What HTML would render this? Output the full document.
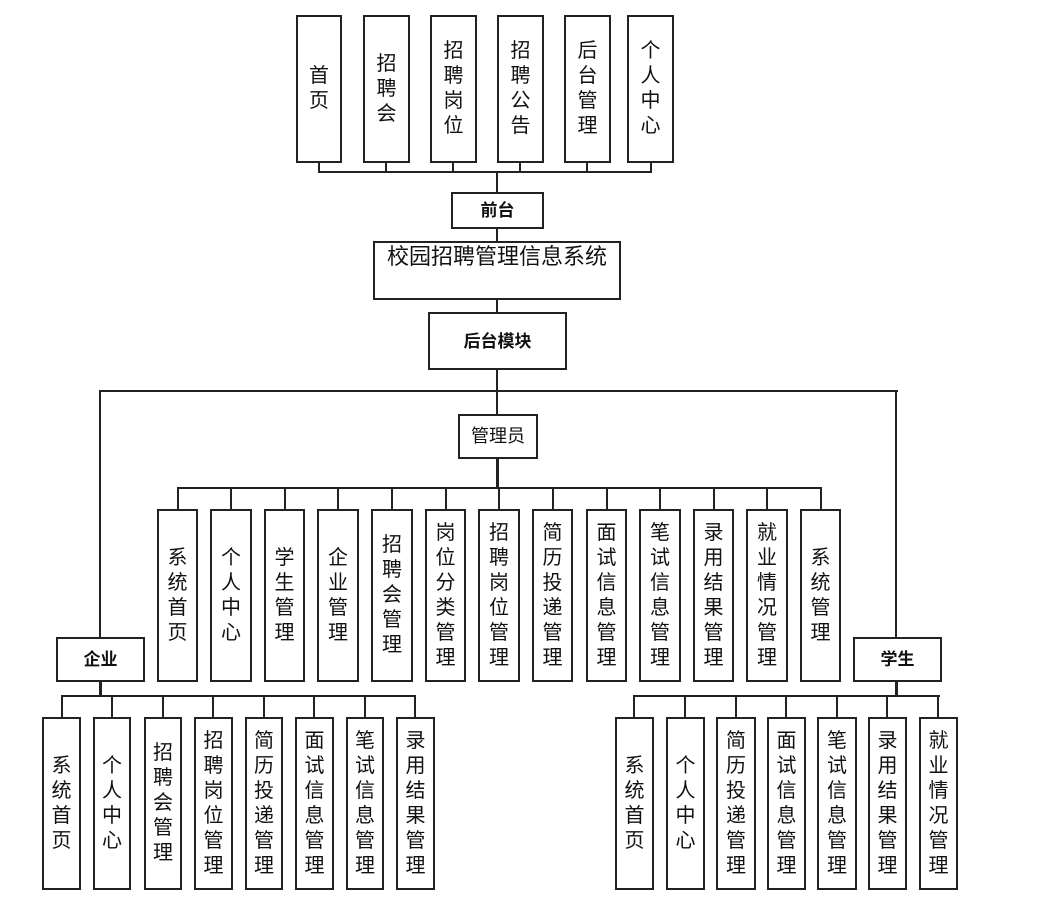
<!DOCTYPE html>
<html><head><meta charset="utf-8"><style>
body{margin:0;width:1037px;height:909px;background:#fff;position:relative;overflow:hidden;font-family:"Liberation Sans","Noto Sans CJK SC",sans-serif;color:#111}
.b{position:absolute;border:2px solid #222;box-sizing:border-box;background:#fff;display:flex;align-items:center;justify-content:center;text-align:center;font-size:20px;line-height:25px}
.v{width:1.1em;word-break:break-all}
.s{font-size:17px;font-weight:bold}
.h,.l{position:absolute;background:#222}
.h{height:2px}.l{width:2px}
</style></head><body>
<!-- top connectors -->
<div class="h" style="left:318px;top:171px;width:334px"></div>
<div class="l" style="left:318px;top:162px;height:10px"></div>
<div class="l" style="left:385px;top:162px;height:10px"></div>
<div class="l" style="left:452px;top:162px;height:10px"></div>
<div class="l" style="left:519px;top:162px;height:10px"></div>
<div class="l" style="left:586px;top:162px;height:10px"></div>
<div class="l" style="left:650px;top:162px;height:10px"></div>
<div class="l" style="left:496px;top:171px;height:200px"></div>
<div class="l" style="left:496px;top:369px;height:46px"></div>
<div class="h" style="left:99px;top:390px;width:799px"></div>
<div class="l" style="left:99px;top:390px;height:247px"></div>
<div class="l" style="left:895px;top:390px;height:247px"></div>
<div class="l" style="left:496px;top:458px;height:30px;width:3px"></div>
<!-- admin row -->
<div class="h" style="left:177px;top:487px;width:645px"></div>
<div class="l" style="left:177px;top:487px;height:22px"></div>
<div class="l" style="left:230px;top:487px;height:22px"></div>
<div class="l" style="left:284px;top:487px;height:22px"></div>
<div class="l" style="left:337px;top:487px;height:22px"></div>
<div class="l" style="left:391px;top:487px;height:22px"></div>
<div class="l" style="left:445px;top:487px;height:22px"></div>
<div class="l" style="left:498px;top:487px;height:22px"></div>
<div class="l" style="left:552px;top:487px;height:22px"></div>
<div class="l" style="left:606px;top:487px;height:22px"></div>
<div class="l" style="left:659px;top:487px;height:22px"></div>
<div class="l" style="left:713px;top:487px;height:22px"></div>
<div class="l" style="left:766px;top:487px;height:22px"></div>
<div class="l" style="left:820px;top:487px;height:22px"></div>
<!-- enterprise row -->
<div class="l" style="left:99px;top:681px;height:16px;width:3px"></div>
<div class="h" style="left:61px;top:695px;width:355px"></div>
<div class="l" style="left:61px;top:695px;height:23px"></div>
<div class="l" style="left:111px;top:695px;height:23px"></div>
<div class="l" style="left:162px;top:695px;height:23px"></div>
<div class="l" style="left:212px;top:695px;height:23px"></div>
<div class="l" style="left:263px;top:695px;height:23px"></div>
<div class="l" style="left:313px;top:695px;height:23px"></div>
<div class="l" style="left:364px;top:695px;height:23px"></div>
<div class="l" style="left:414px;top:695px;height:23px"></div>
<!-- student row -->
<div class="l" style="left:895px;top:681px;height:16px;width:3px"></div>
<div class="h" style="left:633px;top:695px;width:307px"></div>
<div class="l" style="left:633px;top:695px;height:23px"></div>
<div class="l" style="left:684px;top:695px;height:23px"></div>
<div class="l" style="left:735px;top:695px;height:23px"></div>
<div class="l" style="left:785px;top:695px;height:23px"></div>
<div class="l" style="left:836px;top:695px;height:23px"></div>
<div class="l" style="left:886px;top:695px;height:23px"></div>
<div class="l" style="left:937px;top:695px;height:23px"></div>

<!-- top boxes -->
<div class="b" style="left:296px;top:15px;width:46px;height:148px"><span class="v">首页</span></div>
<div class="b" style="left:363px;top:15px;width:47px;height:148px"><span class="v">招聘会</span></div>
<div class="b" style="left:430px;top:15px;width:47px;height:148px"><span class="v">招聘岗位</span></div>
<div class="b" style="left:497px;top:15px;width:47px;height:148px"><span class="v">招聘公告</span></div>
<div class="b" style="left:564px;top:15px;width:47px;height:148px"><span class="v">后台管理</span></div>
<div class="b" style="left:627px;top:15px;width:47px;height:148px"><span class="v">个人中心</span></div>
<div class="b s" style="left:451px;top:192px;width:93px;height:37px">前台</div>
<div class="b" style="left:373px;top:241px;width:248px;height:59px;font-size:22px;line-height:28px;align-items:flex-start;padding:0 10px">校园招聘管理信息系统</div>
<div class="b s" style="left:428px;top:312px;width:139px;height:58px">后台模块</div>
<div class="b s" style="left:458px;top:414px;width:80px;height:45px;font-weight:normal;font-size:18px">管理员</div>
<div class="b s" style="left:56px;top:637px;width:89px;height:45px">企业</div>
<div class="b s" style="left:853px;top:637px;width:89px;height:45px">学生</div>

<!-- admin children -->
<div class="b" style="left:157px;top:509px;width:41px;height:173px"><span class="v">系统首页</span></div>
<div class="b" style="left:210px;top:509px;width:42px;height:173px"><span class="v">个人中心</span></div>
<div class="b" style="left:264px;top:509px;width:41px;height:173px"><span class="v">学生管理</span></div>
<div class="b" style="left:317px;top:509px;width:42px;height:173px"><span class="v">企业管理</span></div>
<div class="b" style="left:371px;top:509px;width:42px;height:173px"><span class="v">招聘会管理</span></div>
<div class="b" style="left:425px;top:509px;width:41px;height:173px"><span class="v">岗位分类管理</span></div>
<div class="b" style="left:478px;top:509px;width:42px;height:173px"><span class="v">招聘岗位管理</span></div>
<div class="b" style="left:532px;top:509px;width:41px;height:173px"><span class="v">简历投递管理</span></div>
<div class="b" style="left:586px;top:509px;width:41px;height:173px"><span class="v">面试信息管理</span></div>
<div class="b" style="left:639px;top:509px;width:42px;height:173px"><span class="v">笔试信息管理</span></div>
<div class="b" style="left:693px;top:509px;width:41px;height:173px"><span class="v">录用结果管理</span></div>
<div class="b" style="left:746px;top:509px;width:42px;height:173px"><span class="v">就业情况管理</span></div>
<div class="b" style="left:800px;top:509px;width:41px;height:173px"><span class="v">系统管理</span></div>

<!-- enterprise children -->
<div class="b" style="left:42px;top:717px;width:39px;height:173px"><span class="v">系统首页</span></div>
<div class="b" style="left:93px;top:717px;width:38px;height:173px"><span class="v">个人中心</span></div>
<div class="b" style="left:144px;top:717px;width:38px;height:173px"><span class="v">招聘会管理</span></div>
<div class="b" style="left:194px;top:717px;width:39px;height:173px"><span class="v">招聘岗位管理</span></div>
<div class="b" style="left:245px;top:717px;width:38px;height:173px"><span class="v">简历投递管理</span></div>
<div class="b" style="left:295px;top:717px;width:39px;height:173px"><span class="v">面试信息管理</span></div>
<div class="b" style="left:346px;top:717px;width:38px;height:173px"><span class="v">笔试信息管理</span></div>
<div class="b" style="left:396px;top:717px;width:39px;height:173px"><span class="v">录用结果管理</span></div>

<!-- student children -->
<div class="b" style="left:615px;top:717px;width:39px;height:173px"><span class="v">系统首页</span></div>
<div class="b" style="left:666px;top:717px;width:39px;height:173px"><span class="v">个人中心</span></div>
<div class="b" style="left:716px;top:717px;width:40px;height:173px"><span class="v">简历投递管理</span></div>
<div class="b" style="left:767px;top:717px;width:39px;height:173px"><span class="v">面试信息管理</span></div>
<div class="b" style="left:817px;top:717px;width:40px;height:173px"><span class="v">笔试信息管理</span></div>
<div class="b" style="left:868px;top:717px;width:39px;height:173px"><span class="v">录用结果管理</span></div>
<div class="b" style="left:919px;top:717px;width:39px;height:173px"><span class="v">就业情况管理</span></div>
</body></html>
